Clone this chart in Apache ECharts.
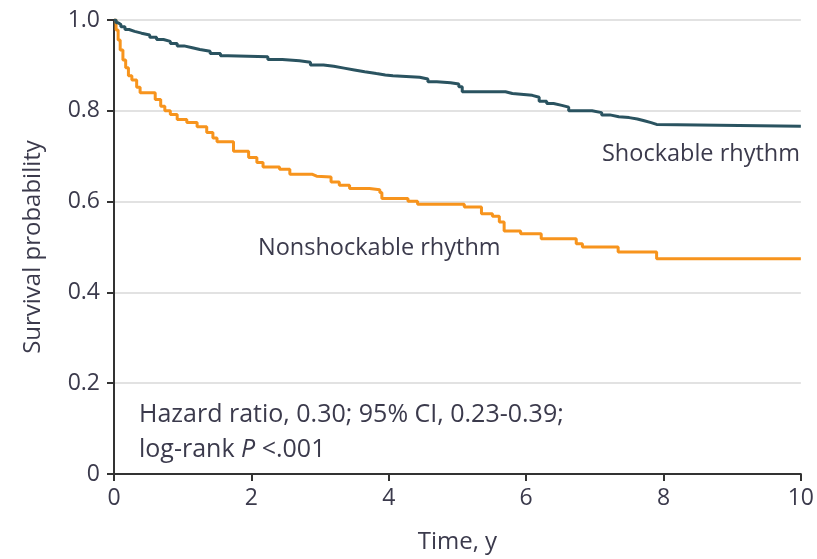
<!DOCTYPE html>
<html>
<head>
<meta charset="utf-8">
<script src="https://cdn.jsdelivr.net/npm/echarts@6/dist/echarts.min.js"></script>
<style>
  html, body { margin: 0; padding: 0; background: #fff; }
  #chart { width: 817px; height: 559px; }
</style>
</head>
<body>
<div id="chart"></div>
<script>
// Kaplan-Meier survival estimates, [time in years, survival probability]
const shockable = [
  [0, 1.0], [0.03, 0.994], [0.06, 0.990], [0.10, 0.985], [0.16, 0.979], [0.22, 0.975],
  [0.30, 0.971], [0.40, 0.967], [0.52, 0.962], [0.62, 0.957], [0.72, 0.953], [0.82, 0.948],
  [0.92, 0.943], [1.02, 0.939], [1.14, 0.935], [1.25, 0.931], [1.40, 0.926], [1.55, 0.921],
  [1.66, 0.919], [2.24, 0.913], [2.45, 0.910], [2.70, 0.907], [2.86, 0.901], [3.05, 0.898],
  [3.20, 0.894], [3.35, 0.890], [3.50, 0.886], [3.65, 0.882], [3.82, 0.879], [3.95, 0.877],
  [4.06, 0.874], [4.45, 0.870], [4.57, 0.864], [4.70, 0.862], [4.90, 0.859], [5.02, 0.853],
  [5.07, 0.842], [5.70, 0.838], [5.80, 0.834], [6.09, 0.830], [6.19, 0.821], [6.30, 0.816],
  [6.40, 0.812], [6.52, 0.808], [6.62, 0.800], [6.96, 0.796], [7.10, 0.791], [7.22, 0.787],
  [7.35, 0.785], [7.50, 0.782], [7.62, 0.778], [7.72, 0.774], [7.82, 0.770], [7.90, 0.766],
  [10, 0.766]
];
const nonshockable = [
  [0, 1.0], [0.03, 0.978], [0.06, 0.956], [0.09, 0.934], [0.13, 0.912], [0.17, 0.895],
  [0.21, 0.877], [0.26, 0.868], [0.33, 0.852], [0.38, 0.840], [0.60, 0.825], [0.68, 0.810],
  [0.74, 0.800], [0.82, 0.792], [0.92, 0.781], [1.06, 0.774], [1.21, 0.765], [1.35, 0.752],
  [1.44, 0.740], [1.50, 0.732], [1.74, 0.711], [1.96, 0.697], [2.08, 0.686], [2.17, 0.676],
  [2.41, 0.671], [2.56, 0.660], [2.89, 0.656], [2.95, 0.654], [3.16, 0.643], [3.28, 0.636],
  [3.43, 0.629], [3.72, 0.626], [3.87, 0.620], [3.90, 0.607], [4.28, 0.601], [4.42, 0.594],
  [5.10, 0.588], [5.35, 0.573], [5.51, 0.568], [5.61, 0.555], [5.68, 0.535], [5.92, 0.529],
  [6.22, 0.518], [6.73, 0.507], [6.82, 0.500], [7.34, 0.489], [7.90, 0.474], [10, 0.474]
];
const xTicks = [0, 2, 4, 6, 8, 10];
const yTicks = [0, 0.2, 0.4, 0.6, 0.8, 1.0];

const FONT = 'Open Sans';
const TXT = '#3b3a4c';
const AXIS = '#333333';

const chart = echarts.init(document.getElementById('chart'), null, { renderer: 'canvas' });

// outward tick marks at every labelled value
const tickStyle = { show: true, inside: false, length: 7, interval: 0,
  lineStyle: { color: AXIS, width: 2 } };

chart.setOption({
  animation: false,
  backgroundColor: '#ffffff',
  grid: { left: 114, right: 15, top: 20, bottom: 83, containLabel: false },
  xAxis: {
    type: 'value',
    min: xTicks[0], max: xTicks[xTicks.length - 1], interval: 2,
    name: 'Time, y', nameLocation: 'middle', nameGap: 56,
    nameTextStyle: { fontFamily: FONT, fontSize: 24, color: TXT },
    axisLine: { show: true, onZero: false, lineStyle: { color: AXIS, width: 2 } },
    axisTick: tickStyle,
    axisLabel: { fontFamily: FONT, fontSize: 23, color: TXT, margin: 13,
      formatter: v => String(v) },
    splitLine: { show: false }
  },
  yAxis: {
    type: 'value',
    min: yTicks[0], max: yTicks[yTicks.length - 1], interval: 0.2,
    name: 'Survival probability', nameLocation: 'middle', nameGap: 69, nameRotate: 90,
    nameTextStyle: { fontFamily: FONT, fontSize: 24, color: TXT },
    axisLine: { show: true, onZero: false, lineStyle: { color: AXIS, width: 2 } },
    axisTick: tickStyle,
    axisLabel: { fontFamily: FONT, fontSize: 23, color: TXT, margin: 14,
      formatter: v => (v === 0 ? '0' : v.toFixed(1)) },
    splitLine: { show: true, lineStyle: { color: '#e2e2e2', width: 2 } }
  },
  series: [
    {
      name: 'Shockable rhythm', type: 'line', step: 'end', data: shockable,
      showSymbol: false, lineStyle: { color: '#2a5360', width: 3 }, z: 3
    },
    {
      name: 'Nonshockable rhythm', type: 'line', step: 'end', data: nonshockable,
      showSymbol: false, lineStyle: { color: '#f7941d', width: 3 }, z: 2
    }
  ],
  graphic: [
    { type: 'text', right: 17, top: 142,
      style: { text: 'Shockable rhythm', fontFamily: FONT, fontSize: 23.5, fill: TXT } },
    { type: 'text', left: 258, top: 236,
      style: { text: 'Nonshockable rhythm', fontFamily: FONT, fontSize: 23.5, fill: TXT } },
    { type: 'text', left: 139, top: 397,
      style: {
        text: 'Hazard ratio, 0.30; 95% CI, 0.23-0.39;\nlog-rank {i|P} <.001',
        fontFamily: FONT, fontSize: 25, fill: TXT, lineHeight: 35,
        rich: { i: { fontFamily: FONT, fontSize: 25, fontStyle: 'italic', fill: TXT } }
      } }
  ]
});
</script>
</body>
</html>
